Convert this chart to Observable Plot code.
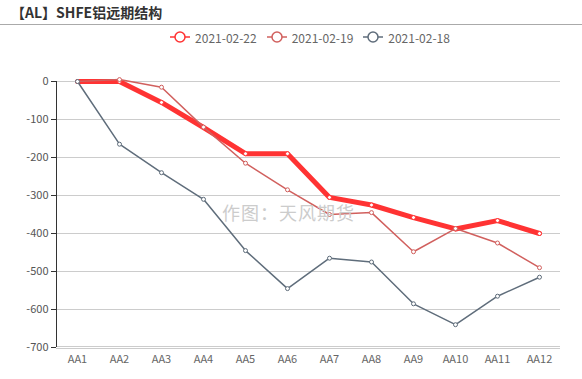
<!DOCTYPE html>
<html><head><meta charset="utf-8">
<script src="https://cdn.jsdelivr.net/npm/d3@7"></script>
<script src="https://cdn.jsdelivr.net/npm/@observablehq/plot@0.6"></script>
<style>
body{margin:0;width:582px;height:379px;overflow:hidden;background:#fff;font-family:"Noto Sans CJK SC","Noto Sans",sans-serif;position:relative}
#title{height:24px;border-bottom:1px solid #aaa;font-weight:bold;font-size:14px;line-height:24px;padding-left:11px;color:#333;box-sizing:content-box}
#legend{height:24px;display:flex;justify-content:center;align-items:center;font-size:12px;color:#666;padding-left:38px}
.item{display:flex;align-items:center;margin:0 5px}
.item svg{margin-right:5px}
#wm{position:absolute;left:222px;top:199px;font-size:18px;color:#ccc;letter-spacing:1px;pointer-events:none}
</style></head>
<body>
<div id="title">【AL】SHFE铝远期结构</div>
<div id="legend"></div>
<div id="chart"></div>
<div id="wm">作图：天风期货</div>
<script>
const categories = ["AA1","AA2","AA3","AA4","AA5","AA6","AA7","AA8","AA9","AA10","AA11","AA12"];
const seriesNames = ["2021-02-22","2021-02-19","2021-02-18"];
const s0222 = [0,0,-55,-121,-190,-190,-305,-325,-358,-388,-366,-400];
const s0219 = [0,5,-15,-120,-215,-285,-350,-345,-448,-387,-425,-490];
const s0218 = [0,-165,-240,-310,-445,-545,-465,-475,-585,-640,-565,-515];
const yTicks = [0,-100,-200,-300,-400,-500,-600,-700];
const colors = ["#ff3333","#d1605e","#5f6d7b"];
const widths = [5,1.5,1.5];

const allValues = [s0222,s0219,s0218];
const data = [];
seriesNames.forEach((n,i)=>categories.forEach((c,j)=>data.push({series:n,cat:c,value:allValues[i][j]})));

// legend
const lg = document.getElementById("legend");
seriesNames.forEach((n,i)=>{
  const d = document.createElement("div"); d.className="item";
  d.innerHTML = `<svg width="20" height="12"><line x1="0" x2="20" y1="6" y2="6" stroke="${colors[i]}" stroke-width="1.5"/><circle cx="10" cy="6" r="5" fill="#fff" stroke="${colors[i]}" stroke-width="1.5"/></svg><span>${n}</span>`;
  lg.appendChild(d);
});

const marks = [
  Plot.gridY(yTicks.filter(t=>t>-700), {stroke:"#ccc", strokeOpacity:1, strokeWidth:1}),
  Plot.ruleY([-700], {stroke:"#ccc", strokeWidth:1, dy:1}),
  Plot.ruleY([-700], {stroke:"#ccc", strokeWidth:1, dy:-1}),
  Plot.ruleX([categories[0]], {y1:-700, y2:0, stroke:"#333", dx:-21}),
  Plot.axisY({ticks:yTicks, tickFormat:d=>String(d), tickSize:5, tickPadding:3, fill:"#555", fontSize:11, stroke:"#333"}),
  Plot.axisX({tickSize:0, tickPadding:8, fill:"#666", fontSize:11})
];
seriesNames.forEach((n,i)=>{
  const d = data.filter(r=>r.series===n);
  marks.push(Plot.line(d,{x:"cat",y:"value",stroke:colors[i],strokeWidth:widths[i],strokeLinejoin:"round"}));
  marks.push(Plot.dot(d,{x:"cat",y:"value",r:2,fill:"#fff",stroke:colors[i],strokeWidth:1}));
});

const chart = Plot.plot({
  width:582, height:329,
  marginTop:32, marginBottom:31, marginLeft:56, marginRight:22,
  style:{fontFamily:'"Noto Sans CJK SC","Noto Sans",sans-serif', background:"transparent"},
  x:{type:"band", domain:categories, padding:0, label:null},
  y:{domain:[-700,0], label:null},
  marks
});
document.getElementById("chart").appendChild(chart);
</script>
</body></html>
